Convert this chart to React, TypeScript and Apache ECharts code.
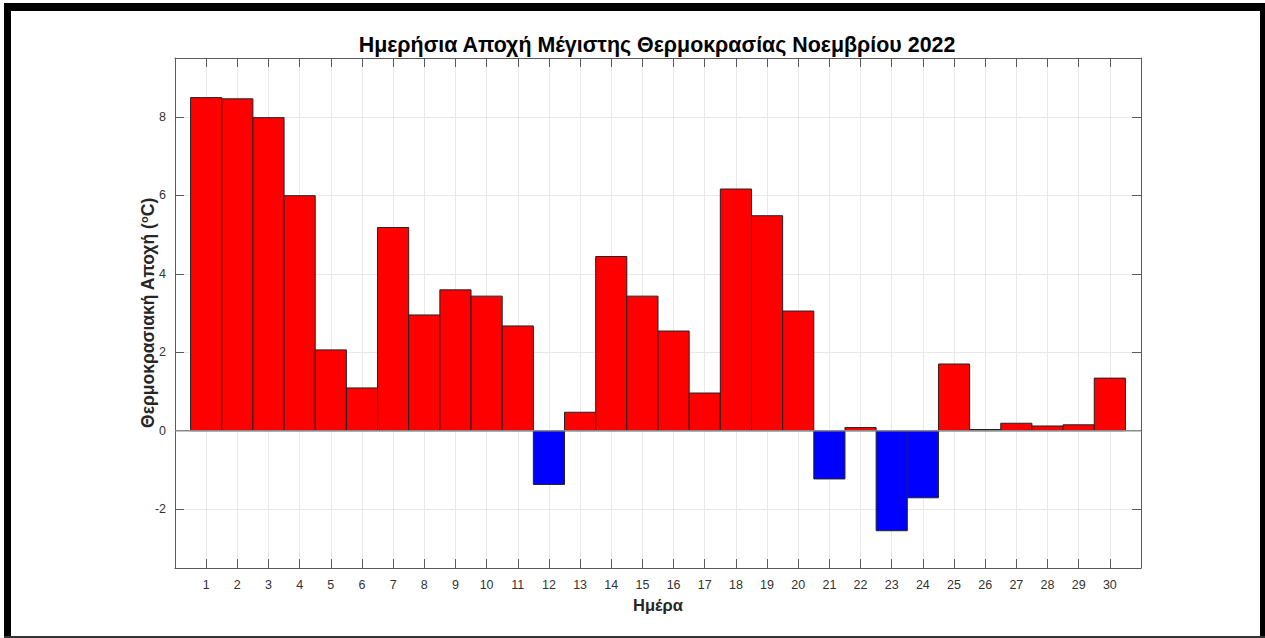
import React, { useEffect, useRef } from 'react';
import * as echarts from 'echarts';

const days = [1, 2, 3, 4, 5, 6, 7, 8, 9, 10, 11, 12, 13, 14, 15, 16, 17, 18, 19, 20, 21, 22, 23, 24, 25, 26, 27, 28, 29, 30];
const anomalies = [8.49, 8.46, 7.98, 5.99, 2.06, 1.09, 5.18, 2.95, 3.59, 3.43, 2.67, -1.37, 0.47, 4.44, 3.43, 2.54, 0.96, 6.16, 5.48, 3.05, -1.23, 0.08, -2.55, -1.71, 1.70, 0.03, 0.19, 0.12, 0.15, 1.34];
const yTicks = [-2, 0, 2, 4, 6, 8];
const titleText = 'Ημερήσια Αποχή Μέγιστης Θερμοκρασίας Νοεμβρίου 2022';
const xName = 'Ημέρα';
const yName = 'Θερμοκρασιακή Αποχή ({sup|o}C)';

export default function App() {
  const ref = useRef<HTMLDivElement>(null);
  useEffect(() => {
    if (!ref.current) return;
    const chart = echarts.init(ref.current, null, { renderer: 'svg' });
    const axisColor = '#5a5a5a';
    const gridColor = '#e8e8e8';
    const font = 'Arial, "Liberation Sans", Helvetica, sans-serif';
    chart.setOption({
      animation: false,
      backgroundColor: '#ffffff',
      title: {
        text: titleText,
        left: 652,
        top: 29,
        textAlign: 'center',
        textStyle: { fontFamily: font, fontSize: 21.4, fontWeight: 'bold', color: '#000' },
      },
      grid: { left: 175, top: 58, right: 124, bottom: 70, containLabel: false },
      xAxis: [
        {
          type: 'value',
          min: 0,
          max: 31,
          interval: 1,
          position: 'bottom',
          name: xName,
          nameLocation: 'middle',
          nameGap: 28,
          nameTextStyle: { fontFamily: font, fontSize: 16.5, fontWeight: 'bold', color: '#262626' },
          axisLine: { show: true, onZero: false, lineStyle: { color: axisColor, width: 1 } },
          axisTick: { show: true, inside: true, length: 9, lineStyle: { color: axisColor } },
          axisLabel: {
            fontFamily: font,
            fontSize: 12.5,
            color: '#333',
            margin: 10,
            formatter: (v: number) => (v >= 1 && v <= 30 ? String(v) : ''),
          },
          splitLine: { show: true, lineStyle: { color: gridColor, width: 1 } },
        },
        {
          type: 'value',
          min: 0,
          max: 31,
          interval: 1,
          position: 'top',
          axisLine: { show: true, onZero: false, lineStyle: { color: axisColor, width: 1 } },
          axisTick: { show: true, inside: true, length: 9, lineStyle: { color: axisColor } },
          axisLabel: { show: false },
          splitLine: { show: false },
        },
      ],
      yAxis: [
        {
          type: 'value',
          min: -3.5,
          max: 9.5,
          position: 'left',
          name: yName,
          nameLocation: 'middle',
          nameGap: 18,
          nameMoveOverlap: false,
          nameRotate: 90,
          nameTextStyle: {
            fontFamily: font,
            fontSize: 17.5,
            fontWeight: 'bold',
            color: '#262626',
            rich: {
              sup: { fontFamily: font, fontSize: 11, fontWeight: 'bold', color: '#262626', padding: [0, 0, 8, 0] },
            },
          },
          axisLine: { show: true, onZero: false, lineStyle: { color: axisColor, width: 1 } },
          axisTick: { show: true, inside: true, length: 9, customValues: yTicks, lineStyle: { color: axisColor } },
          axisLabel: { fontFamily: font, fontSize: 12.5, color: '#333', margin: 9, customValues: yTicks },
          splitLine: { show: true, lineStyle: { color: gridColor, width: 1 } },
        },
        {
          type: 'value',
          min: -3.5,
          max: 9.5,
          position: 'right',
          axisLine: { show: true, onZero: false, lineStyle: { color: axisColor, width: 1 } },
          axisTick: { show: true, inside: true, length: 9, customValues: yTicks, lineStyle: { color: axisColor } },
          axisLabel: { show: false, customValues: yTicks },
          splitLine: { show: false },
        },
      ],
      series: [
        {
          type: 'custom',
          xAxisIndex: 0,
          yAxisIndex: 0,
          encode: { x: 0, y: 1 },
          data: days.map((d, i) => [d, anomalies[i]]),
          renderItem: (params: any, api: any) => {
            const x = api.value(0);
            const v = api.value(1);
            const pTop = api.coord([x - 0.5, v]);
            const pBase = api.coord([x + 0.5, 0]);
            return {
              type: 'rect',
              shape: {
                x: pTop[0],
                y: Math.min(pTop[1], pBase[1]),
                width: pBase[0] - pTop[0],
                height: Math.abs(pBase[1] - pTop[1]),
              },
              style: { fill: v >= 0 ? '#ff0000' : '#0000ff', stroke: '#222222', lineWidth: 1 },
            };
          },
          z: 2,
        },
        {
          type: 'line',
          xAxisIndex: 0,
          yAxisIndex: 0,
          data: [[0, 0], [31, 0]],
          showSymbol: false,
          symbol: 'none',
          lineStyle: { color: '#8a8a8a', width: 1.5 },
          silent: true,
          z: 3,
        },
      ],
      graphic: [
        { type: 'rect', shape: { x: 4, y: 3, width: 1261, height: 8 }, style: { fill: '#000' }, z: 100 },
        { type: 'rect', shape: { x: 4, y: 3, width: 7, height: 635 }, style: { fill: '#000' }, z: 100 },
        { type: 'rect', shape: { x: 1260, y: 3, width: 5, height: 635 }, style: { fill: '#000' }, z: 100 },
        { type: 'rect', shape: { x: 4, y: 636, width: 1261, height: 2 }, style: { fill: '#333' }, z: 100 },
      ],
    });
    return () => chart.dispose();
  }, []);
  return (
    <div
      ref={ref}
      style={{ position: 'fixed', left: 0, top: 0, width: 1265, height: 638, background: '#fff' }}
    />
  );
}
